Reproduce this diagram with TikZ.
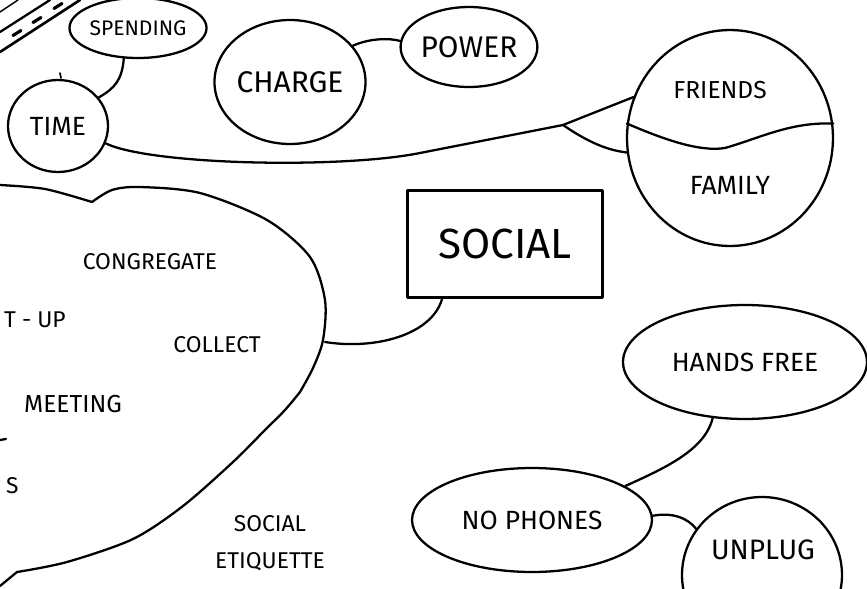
\documentclass[tikz,border=0pt]{standalone}
\usepackage{fontspec}
\setmainfont{Fira Sans}
\usetikzlibrary{shapes.geometric}

\tikzset{
  bubble/.style={draw, ellipse, line width=1.3pt, inner sep=0pt},
  hand/.style={font=\fontsize{#1}{#1}\selectfont},
  link/.style={line width=1.3pt},
}

\begin{document}
\begin{tikzpicture}[x=0.02cm,y=-0.02cm,line cap=round,line join=round]
    \useasboundingbox (0,0) rectangle (867,589);
    \draw[line width=1.5pt] (0,52) -- (80,0);
    \draw[line width=1.3pt] (0,32) -- (50,0);
    \draw[line width=0.8pt] (0,12) -- (18,0);
    \foreach \x/\y in {17/33,37/20,58/6}
        \draw[line width=1.8pt] (\x-4,\y+2.5) -- (\x+4,\y-2.5);
    \draw[line width=1pt] (60,73) -- (61,78);

    \node[bubble,minimum width=2.64cm,minimum height=1.2cm,hand=12pt] (spending) at (138,28) {SPENDING};
    \node[bubble,minimum width=2.0cm,minimum height=1.84cm,hand=15pt] (time) at (58,126) {TIME};
    \node[bubble,minimum width=2.88cm,minimum height=2.48cm,hand=17pt] (charge) at (290,82) {CHARGE};
    \node[bubble,minimum width=2.64cm,minimum height=1.6cm,hand=17pt] (power) at (469,47) {POWER};
    \node[bubble,minimum width=4.12cm,minimum height=4.32cm] (mates) at (730,138) {};
    \node[hand=14pt] (friends) at (720,90) {FRIENDS};
    \node[hand=15pt] (family) at (730,185) {FAMILY};
    \draw[link] (mates.172) .. controls (665,140) and (700,152) .. (725,148)
        .. controls (760,138) and (790,122) .. (mates.8);
    \node[draw,line width=1.3pt,minimum width=3.9cm,minimum height=2.14cm,hand=24pt] (social) at (505,244) {SOCIAL};
    \node[bubble,minimum width=4.88cm,minimum height=2.28cm,hand=15pt] (hands) at (745,362) {HANDS FREE};
    \node[bubble,minimum width=4.8cm,minimum height=2.08cm,hand=15pt] (nophones) at (532,520) {NO PHONES};
    \node[bubble,minimum width=3.2cm,minimum height=3.12cm] (unplug) at (762,575) {};
    \node[hand=16pt] (unpluglabel) at (763,550) {UNPLUG};

    \draw[link] plot[smooth] coordinates {(0,185) (45,189) (92,202)};
    \draw[link] plot[smooth] coordinates {(92,202) (112,190) (140,187) (200,193) (267,220) (310,257) (325,300) (323,340) (313,368) (300,392)};
    \draw[link] plot[smooth] coordinates {(300,392) (285,410) (265,430) (233,462) (183,506) (133,539) (67,562) (17,572)};
    \draw[link] (17,572) -- (0,586);
    \coordinate (cloudrim) at (325,342);
    \coordinate (fork) at (563,125);

    \node[hand=13pt] (congregate) at (150,262) {CONGREGATE};
    \node[hand=13pt,anchor=west] (meetup) at (-2,320) {T - UP};
    \node[hand=13pt] (collect) at (217,345) {COLLECT};
    \node[hand=14pt] (meeting) at (73,404) {MEETING};
    \draw[link] (0,440) -- (6,439);
    \node[hand=13pt,anchor=west] (sfrag) at (0,486) {S};
    \node[align=center,font=\fontsize{13pt}{21pt}\selectfont] (etiquette) at (270,543) {SOCIAL\\ETIQUETTE};

    \draw[link] (spending.245) .. controls (122,80) and (115,88) .. (time.35);
    \draw[link] (time.-20) .. controls (150,165) and (340,169) .. (420,153) -- (fork) -- (mates.157);
    \draw[link] (fork) .. controls (585,140) and (605,150) .. (mates.188);
    \draw[link] (charge.30) .. controls (370,38) and (390,38) .. (power.175);
    \draw[link] (social.221) .. controls (432,335) and (375,350) .. (cloudrim);
    \draw[link] (hands.240) .. controls (705,450) and (665,468) .. (nophones.20);
    \draw[link] (nophones.2) .. controls (672,512) and (688,518) .. (unplug.145);
\end{tikzpicture}
\end{document}
